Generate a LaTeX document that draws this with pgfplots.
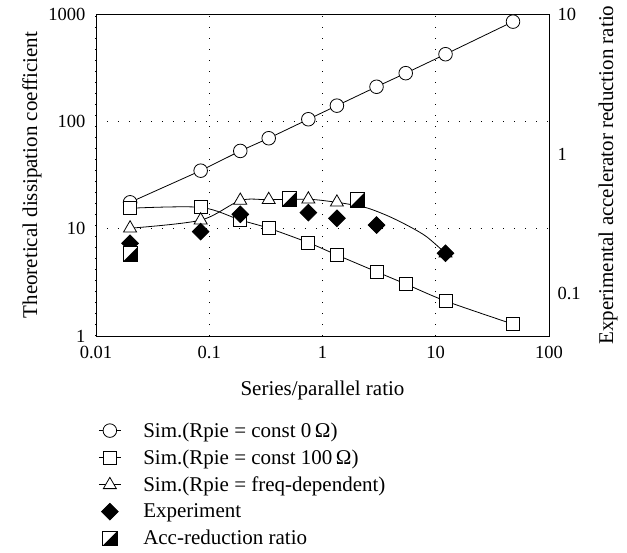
\documentclass[border=0pt]{standalone}
\usepackage{fontspec}
\setmainfont{Liberation Serif}
\usepackage{pgfplots}
\pgfplotsset{compat=1.18}

\pgfdeclareplotmark{halfsq}{%
  \pgfpathrectangle{\pgfqpoint{-\pgfplotmarksize}{-\pgfplotmarksize}}{\pgfqpoint{2\pgfplotmarksize}{2\pgfplotmarksize}}%
  \pgfsetfillcolor{white}\pgfusepathqfill
  \pgfpathmoveto{\pgfqpoint{-\pgfplotmarksize}{-\pgfplotmarksize}}%
  \pgfpathlineto{\pgfqpoint{\pgfplotmarksize}{-\pgfplotmarksize}}%
  \pgfpathlineto{\pgfqpoint{\pgfplotmarksize}{\pgfplotmarksize}}%
  \pgfpathclose
  \pgfsetfillcolor{black}\pgfusepathqfill
  \pgfpathrectangle{\pgfqpoint{-\pgfplotmarksize}{-\pgfplotmarksize}}{\pgfqpoint{2\pgfplotmarksize}{2\pgfplotmarksize}}%
  \pgfusepathqstroke
}

\begin{document}
\begin{tikzpicture}
\begin{axis}[name=main,
  width=453pt, height=322pt, scale only axis,
  xmode=log, xmin=0.01, xmax=100,
  major tick length=0pt, minor tick length=0pt,
  tick label style={font=\fontsize{18.5}{22}\selectfont},
  label style={font=\fontsize{21}{25}\selectfont},
  /pgf/number format/assume math mode=true,
  axis line style={line width=0.8pt, black},
  ymode=log, ymin=1, ymax=1000,
  xtick={0.01,0.1,1,10,100}, xticklabels={0.01,0.1,1,10,100},
  ytick={1,10,100,1000}, yticklabels={1,10,100,1000},
  ytick pos=left, xtick pos=bottom,
  xmajorgrids, ymajorgrids,
  major grid style={black, line width=1pt, dash pattern=on 1pt off 10pt},
  xlabel={Series/parallel ratio},
  ylabel={Theoretical dissipation coefficient},
  xlabel shift=15pt,
  yticklabel style={xshift=-7pt},
  xticklabel style={yshift=-7pt},
]
% Sim. Rpie = const 0 Ohm
\addplot[black, line width=0.8pt, mark=*, mark options={fill=white, draw=black}, mark size=6.8pt]
  coordinates {(0.02,17.6)(0.084,34.7)(0.188,53)(0.335,69.6)(0.75,104.6)(1.34,140)(3.0,210)(5.43,281)(12.2,422)(48.1,849)};
% Sim. Rpie = const 100 Ohm
\addplot[black, line width=0.8pt, smooth, tension=0.5, mark=square*, mark options={fill=white, draw=black}, mark size=6.5pt]
  coordinates {(0.02,15.5)(0.084,15.8)(0.188,12.05)(0.335,10.1)(0.75,7.41)(1.34,5.69)(3.0,3.97)(5.43,3.05)(12.2,2.12)(48.1,1.29)};
% Sim. freq-dependent: curve
\addplot[black, line width=0.8pt, smooth, tension=0.5, no markers]
  coordinates {(0.02,10.1)(0.084,12.0)(0.188,18.3)(0.335,18.6)(0.75,18.8)(1.34,17.6)(2.0,16.4)(2.63,15.3)(3.94,12.9)(5.93,10.4)(8.32,8.4)(12.2,5.9)};
% Sim. freq-dependent: markers
\addplot[only marks, black, line width=0.8pt, mark=triangle*, mark options={fill=white, draw=black}, mark size=7.5pt]
  coordinates {(0.02,10.1)(0.084,12.0)(0.188,18.3)(0.335,18.6)(0.75,18.8)(1.34,17.6)(12.2,5.9)};
% Experiment
\addplot[only marks, black, line width=0.8pt, mark=square*, mark options={rotate=45, fill=black, draw=black}, mark size=5.9pt]
  coordinates {(0.02,7.31)(0.084,9.38)(0.188,13.6)(0.75,14.1)(1.34,12.5)(3.0,10.8)(12.2,5.9)};
\end{axis}
\begin{axis}[
  width=453pt, height=322pt, scale only axis,
  xmode=log, xmin=0.01, xmax=100,
  major tick length=0pt, minor tick length=0pt,
  tick label style={font=\fontsize{18.5}{22}\selectfont},
  label style={font=\fontsize{21}{25}\selectfont},
  /pgf/number format/assume math mode=true,
  axis line style={line width=0.8pt, black},
  ymode=log, ymin=0.05, ymax=10,
  axis x line=none, axis y line*=right,
  ytick={0.1,1,10}, yticklabels={0.1,1,10},
  ylabel={Experimental accelerator reduction ratio},
  ylabel shift=11pt,
  yticklabel style={xshift=5pt},
  legend cell align=left,
  legend style={at={(0.005,-0.262)}, anchor=north west, draw=none, fill=none,
    font=\fontsize{21}{25}\selectfont, row sep=7pt, column sep=20pt, inner sep=0pt},
  legend image code/.code={\draw[mark repeat=2,mark phase=2,#1] plot coordinates {(0pt,0pt)(11pt,0pt)(22pt,0pt)};},
]
\addlegendimage{black, line width=0.8pt, mark=*, mark options={fill=white, draw=black}, mark size=6.8pt}
\addlegendentry{Sim.(Rpie = const 0\,Ω)}
\addlegendimage{black, line width=0.8pt, mark=square*, mark options={fill=white, draw=black}, mark size=6.5pt}
\addlegendentry{Sim.(Rpie = const 100\,Ω)}
\addlegendimage{black, line width=0.8pt, mark=triangle*, mark options={fill=white, draw=black}, mark size=7.5pt}
\addlegendentry{Sim.(Rpie = freq-dependent)}
\addlegendimage{only marks, black, line width=0.8pt, mark=square*, mark options={rotate=45, fill=black, draw=black}, mark size=5.9pt}
\addlegendentry{Experiment}
\addplot[only marks, black, line width=0.8pt, mark=halfsq, mark size=7.3pt]
  coordinates {(0.0202,0.193)(0.51,0.477)(2.03,0.470)};
\addlegendentry{Acc-reduction ratio}
\end{axis}
\pgfresetboundingbox
\path (main.south west) ++(-96pt,-216pt) rectangle ++(627pt,552pt);
\end{tikzpicture}
\end{document}
